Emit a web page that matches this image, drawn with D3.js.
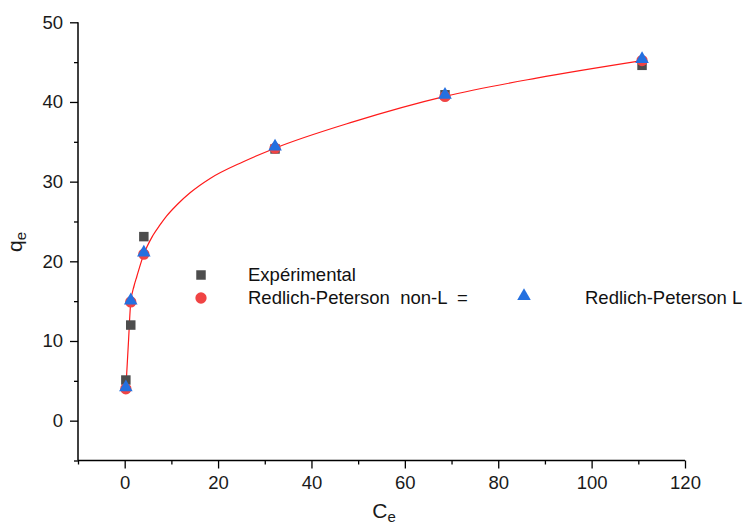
<!DOCTYPE html>
<html>
<head>
<meta charset="utf-8">
<script src="https://cdn.jsdelivr.net/npm/d3@7"></script>
<style>
  html, body { margin: 0; padding: 0; background: #fff; }
  svg { display: block; font-family: "Liberation Sans", Arial, sans-serif; }
</style>
</head>
<body>
<svg id="chart" width="746" height="528"></svg>
<script>
// Equilibrium concentration Ce (mg/L) and adsorbed amount qe (mg/g)
const ceValues = [0.25, 1.3, 4.1, 32.2, 68.6, 110.8];
const qeExperimental = [5.1, 12.0, 23.1, 34.1, 40.9, 44.6];
const qeRedlichNonLinear = [4.0, 14.9, 20.9, 34.2, 40.7, 45.2];
const qeRedlichLinear = [4.0, 14.9, 20.9, 34.2, 40.7, 45.2];

// Points along the fitted Redlich-Peterson isotherm
const fitCurveCe = [0.25, 0.8, 1.3, 2.0, 2.6, 4.1, 6.0, 7.6, 9.0, 11.2, 14.0, 18.3, 25.4, 32.2, 48.9, 68.6, 88.2, 110.8];
const fitCurveQe = [4.0, 9.8, 14.9, 16.9, 18.1, 20.9, 23.2, 24.6, 25.7, 27.1, 28.6, 30.4, 32.5, 34.2, 37.5, 40.7, 43.0, 45.2];

const xMajorTicks = [0, 20, 40, 60, 80, 100, 120];
const xMinorTicks = [-10, 10, 30, 50, 70, 90, 110];
const yMajorTicks = [0, 10, 20, 30, 40, 50];
const yMinorTicks = [-5, 5, 15, 25, 35, 45];

const svg = d3.select("#chart");

const x = d3.scaleLinear().domain([-10, 120]).range([78, 685]);
const y = d3.scaleLinear().domain([-5, 50]).range([460.5, 22.3]);

const axisColor = "#000";
const labelColor = "#1a1a1a";
const tickFont = "18.5px";

// Minor ticks (no labels)
svg.append("g")
  .attr("transform", `translate(0,${y(-5)})`)
  .call(d3.axisBottom(x).tickValues(xMinorTicks).tickSize(4).tickFormat(""))
  .call(g => g.select(".domain").remove())
  .call(g => g.selectAll("line").attr("stroke", axisColor).attr("stroke-width", 1.3));

svg.append("g")
  .attr("transform", `translate(${x(-10)},0)`)
  .call(d3.axisLeft(y).tickValues(yMinorTicks).tickSize(4).tickFormat(""))
  .call(g => g.select(".domain").remove())
  .call(g => g.selectAll("line").attr("stroke", axisColor).attr("stroke-width", 1.3));

// Major ticks with labels
const xAxis = svg.append("g")
  .attr("transform", `translate(0,${y(-5)})`)
  .call(d3.axisBottom(x).tickValues(xMajorTicks).tickSize(8).tickSizeOuter(0).tickPadding(7).tickFormat(d3.format("d")));
xAxis.select(".domain").attr("stroke", axisColor).attr("stroke-width", 1.5)
  .attr("d", `M${x(-10)},0H${x(120)}`);
xAxis.selectAll(".tick line").attr("stroke", axisColor).attr("stroke-width", 1.3);
xAxis.selectAll(".tick text").attr("fill", labelColor).style("font-size", tickFont)
  .style("font-family", "'Liberation Sans', Arial, sans-serif");

const yAxis = svg.append("g")
  .attr("transform", `translate(${x(-10)},0)`)
  .call(d3.axisLeft(y).tickValues(yMajorTicks).tickSize(8).tickSizeOuter(0).tickPadding(7).tickFormat(d3.format("d")));
yAxis.select(".domain").attr("stroke", axisColor).attr("stroke-width", 1.5)
  .attr("d", `M0,${y(-5)}V${y(50)}`);
yAxis.selectAll(".tick line").attr("stroke", axisColor).attr("stroke-width", 1.3);
yAxis.selectAll(".tick text").attr("fill", labelColor).style("font-size", tickFont)
  .style("font-family", "'Liberation Sans', Arial, sans-serif");

// Axis titles
const xTitle = svg.append("text")
  .attr("x", 384).attr("y", 518)
  .attr("text-anchor", "middle")
  .attr("fill", labelColor)
  .style("font-size", "21px");
xTitle.append("tspan").text("C");
xTitle.append("tspan").attr("dy", 4).style("font-size", "15px").text("e");

const yTitle = svg.append("text")
  .attr("transform", "translate(22,242) rotate(-90)")
  .attr("text-anchor", "middle")
  .attr("fill", labelColor)
  .style("font-size", "21px");
yTitle.append("tspan").text("q");
yTitle.append("tspan").attr("dy", 4).style("font-size", "15px").text("e");

// Fitted curve
const curveData = fitCurveCe.map((c, i) => ({ c, q: fitCurveQe[i] }));
svg.append("path")
  .datum(curveData)
  .attr("fill", "none")
  .attr("stroke", "#ff1a1a")
  .attr("stroke-width", 1.2)
  .attr("d", d3.line().x(d => x(d.c)).y(d => y(d.q)).curve(d3.curveMonotoneX));

const squareColor = "#4d4d4d";
const circleColor = "#f04444";
const triangleColor = "#2470e0";

const symSquare = d3.symbol().type(d3.symbolSquare).size(90);
const symCircle = d3.symbol().type(d3.symbolCircle).size(100);
const symTriangle = d3.symbol().type(d3.symbolTriangle).size(80);

// Experimental points
svg.append("g").selectAll("path")
  .data(ceValues.map((c, i) => ({ c, q: qeExperimental[i] })))
  .join("path")
  .attr("transform", d => `translate(${x(d.c)},${y(d.q)})`)
  .attr("d", symSquare)
  .attr("fill", squareColor);

// Redlich-Peterson non-linear
svg.append("g").selectAll("path")
  .data(ceValues.map((c, i) => ({ c, q: qeRedlichNonLinear[i] })))
  .join("path")
  .attr("transform", d => `translate(${x(d.c)},${y(d.q)})`)
  .attr("d", symCircle)
  .attr("fill", circleColor);

// Redlich-Peterson linear
svg.append("g").selectAll("path")
  .data(ceValues.map((c, i) => ({ c, q: qeRedlichLinear[i] })))
  .join("path")
  .attr("transform", d => `translate(${x(d.c)},${y(d.q) - 1.5})`)
  .attr("d", symTriangle)
  .attr("fill", triangleColor);

// Legend
const legend = svg.append("g").style("font-size", "18.5px").attr("fill", "#111");
legend.append("path").attr("transform", "translate(201,275)").attr("d", symSquare).attr("fill", squareColor);
legend.append("text").attr("x", 248).attr("y", 281).text("Expérimental");
legend.append("path").attr("transform", "translate(201,298)").attr("d", symCircle).attr("fill", circleColor);
legend.append("text").attr("x", 248).attr("y", 304).attr("xml:space", "preserve").text("Redlich-Peterson  non-L  =");
legend.append("path").attr("transform", "translate(524,296)").attr("d", symTriangle).attr("fill", triangleColor);
legend.append("text").attr("x", 585).attr("y", 304).text("Redlich-Peterson L");
</script>
</body>
</html>
